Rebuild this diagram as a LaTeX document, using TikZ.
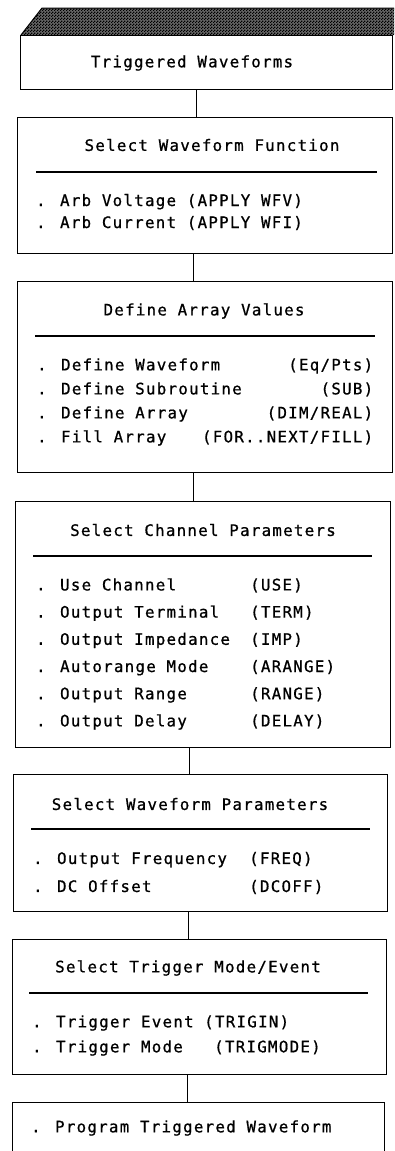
\documentclass[tikz,border=0pt]{standalone}
\usepackage{fontspec}
\newfontfamily\plotfont[LetterSpace=8, FakeBold=0.8]{DejaVu Sans Mono}
\usetikzlibrary{patterns}

% fine checker texture for the page band on top
\pgfdeclarepatternformonly{finecheck}{\pgfpointorigin}{\pgfpoint{3pt}{3pt}}{\pgfpoint{3pt}{3pt}}{%
  \pgfpathrectangle{\pgfpointorigin}{\pgfpoint{1.5pt}{1.5pt}}%
  \pgfpathrectangle{\pgfpoint{1.5pt}{1.5pt}}{\pgfpoint{1.5pt}{1.5pt}}%
  \pgfusepath{fill}}

\newcommand{\lcol}[3]{\makebox[#1][l]{#2}#3}
\newcommand{\rcol}[3]{\makebox[#1]{#2\hfill#3}}

\begin{document}
\begin{tikzpicture}[x=1pt, y=-1pt,
  stage/.style={draw, line width=1.2pt, anchor=north west, inner sep=0pt},
  heading/.style={font=\plotfont\fontsize{15.8}{18}\selectfont, inner sep=0pt},
  entries/.style={font=\plotfont\fontsize{15.8}{#1}\selectfont, align=left,
                  anchor=west, inner sep=0pt},
  divider/.style={line width=1.3pt},
  link/.style={line width=1.2pt}
]
  \useasboundingbox (0,0) rectangle (394,1151);
  \clip (0,0) rectangle (394,1151);

  % Shaded band above the first box
  \fill[black!60] (42,8) -- (400,8) -- (400,35) -- (21,35) -- cycle;
  \fill[pattern=finecheck] (42,8) -- (400,8) -- (400,35) -- (21,35) -- cycle;
  \draw[line width=1pt] (21,35) -- (42,8) -- (400,8);

  % Boxes
  \node[stage, minimum width=372pt, minimum height=54pt]  (trig) at (20,35)   {};
  \node[stage, minimum width=375pt, minimum height=136pt] (func) at (17,117)  {};
  \node[stage, minimum width=375pt, minimum height=191pt] (arr)  at (17,281)  {};
  \node[stage, minimum width=375pt, minimum height=246pt] (chan) at (15,501)  {};
  \node[stage, minimum width=374pt, minimum height=137pt] (wave) at (13,774)  {};
  \node[stage, minimum width=374pt, minimum height=135pt] (mode) at (12,939)  {};
  \node[stage, minimum width=372pt, minimum height=80pt]  (prog) at (12,1102) {};

  % Connectors
  \foreach \a/\b/\dx in {trig/func/-10, func/arr/-11.5, arr/chan/-11.5,
                         chan/wave/-13.5, wave/mode/-12, mode/prog/-12} {
    \draw[link] ([xshift=\dx pt]\a.south) -- ([xshift=\dx pt]\a.south |- \b.north);
  }

  % Headings
  \node[heading] (trigt) at (192,63)  {Triggered Waveforms};
  \node[heading] (funct) at (212,145) {Select Waveform Function};
  \node[heading] (arrt)  at (204,311) {Define Array Values};
  \node[heading] (chant) at (203,530) {Select Channel Parameters};
  \node[heading] (wavet) at (190,804) {Select Waveform Parameters};
  \node[heading] (modet) at (188,968) {Select Trigger Mode/Event};

  % Rules under the headings
  \draw[divider] (36,172) -- (377,172);
  \draw[divider] (35,336) -- (375,336);
  \draw[divider] (33,556) -- (372,556);
  \draw[divider] (31,829) -- (370,829);
  \draw[divider] (29,993) -- (368,993);

  % Entries
  \node[entries=22] (funcl) at (36,212)
    {. Arb Voltage (APPLY WFV)\\. Arb Current (APPLY WFI)};
  \node[entries=24] (arrl) at (37,402)
    {\rcol{336pt}{. Define Waveform}{(Eq/Pts)}\\
     \rcol{336pt}{. Define Subroutine}{(SUB)}\\
     \rcol{336pt}{. Define Array}{(DIM/REAL)}\\
     \rcol{336pt}{. Fill Array}{(FOR..NEXT/FILL)}};
  \node[entries=27.2] (chanl) at (36,654)
    {\lcol{214pt}{. Use Channel}{(USE)}\\
     \lcol{214pt}{. Output Terminal}{(TERM)}\\
     \lcol{214pt}{. Output Impedance}{(IMP)}\\
     \lcol{214pt}{. Autorange Mode}{(ARANGE)}\\
     \lcol{214pt}{. Output Range}{(RANGE)}\\
     \lcol{214pt}{. Output Delay}{(DELAY)}};
  \node[entries=28] (wavel) at (33,873)
    {\lcol{216pt}{. Output Frequency}{(FREQ)}\\
     \lcol{216pt}{. DC Offset}{(DCOFF)}};
  \node[entries=25] (model) at (32,1035.5)
    {\lcol{172pt}{. Trigger Event}{(TRIGIN)}\\
     \lcol{182pt}{. Trigger Mode}{(TRIGMODE)}};
  \node[entries=18] (progl) at (31,1128) {. Program Triggered Waveform};
\end{tikzpicture}
\end{document}
